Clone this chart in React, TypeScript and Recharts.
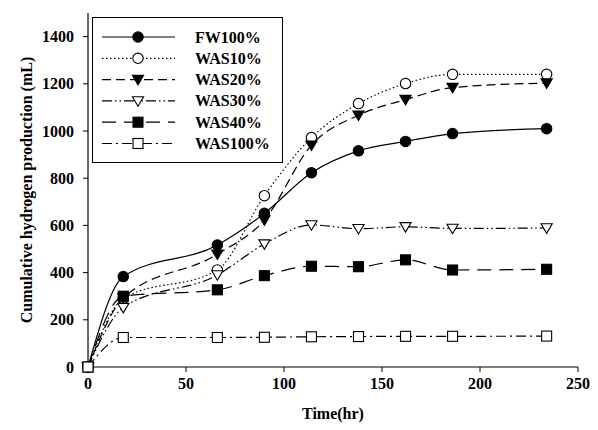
import { LineChart, Line, XAxis, YAxis, Legend } from 'recharts';

// time points (hr)
const times = [0, 18, 66, 90, 114, 138, 162, 186, 234];

// cumulative hydrogen production (mL)
const fw100 = [0, 383, 517, 651, 823, 916, 956, 989, 1010];
const was10 = [0, 290, 411, 726, 972, 1116, 1201, 1240, 1240];
const was20 = [0, 292, 478, 623, 940, 1067, 1133, 1184, 1203];
const was30 = [0, 252, 390, 521, 602, 586, 594, 587, 589];
const was40 = [0, 300, 327, 387, 427, 425, 454, 411, 414];
const was100 = [0, 125, 125, 126, 128, 129, 130, 130, 131];

const xTicks = [0, 50, 100, 150, 200, 250];
const yTicks = [0, 200, 400, 600, 800, 1000, 1200, 1400];

type Shape = 'circleFill' | 'circleOpen' | 'triDownFill' | 'triDownOpen' | 'squareFill' | 'squareOpen';

const seriesDefs: { key: string; name: string; values: number[]; dash?: string; shape: Shape }[] = [
  { key: 'fw100', name: 'FW100%', values: fw100, shape: 'circleFill' },
  { key: 'was10', name: 'WAS10%', values: was10, dash: '1.5 2.5', shape: 'circleOpen' },
  { key: 'was20', name: 'WAS20%', values: was20, dash: '9 5', shape: 'triDownFill' },
  { key: 'was30', name: 'WAS30%', values: was30, dash: '10 3 1.5 3 1.5 3', shape: 'triDownOpen' },
  { key: 'was40', name: 'WAS40%', values: was40, dash: '14 8', shape: 'squareFill' },
  { key: 'was100', name: 'WAS100%', values: was100, dash: '10 4 2 4', shape: 'squareOpen' },
];

const data = times.map((t, i) => {
  const row: Record<string, number> = { t };
  seriesDefs.forEach((s) => {
    row[s.key] = s.values[i];
  });
  return row;
});

const FONT = '"Liberation Serif", "Times New Roman", serif';

const Marker = ({ cx, cy, shape }: { cx: number; cy: number; shape: Shape }) => {
  const fill = shape.endsWith('Fill') ? '#000' : '#fff';
  if (shape.startsWith('circle')) {
    return <circle cx={cx} cy={cy} r={5.2} fill={fill} stroke="#000" strokeWidth={1.1} />;
  }
  if (shape.startsWith('tri')) {
    const s = 5.6;
    const pts = `${cx - s},${cy - s * 0.75} ${cx + s},${cy - s * 0.75} ${cx},${cy + s * 0.95}`;
    return <polygon points={pts} fill={fill} stroke="#000" strokeWidth={1.1} />;
  }
  return <rect x={cx - 5} y={cy - 5} width={10} height={10} fill={fill} stroke="#000" strokeWidth={1.1} />;
};

const dotFor = (shape: Shape) => (props: any) => (
  <Marker key={`${shape}-${props.index}`} cx={props.cx} cy={props.cy} shape={shape} />
);

const LegendBox = () => (
  <svg width={192} height={147} style={{ display: 'block' }}>
    <rect x={0.5} y={0.5} width={190} height={145} fill="#fff" stroke="#000" strokeWidth={1} />
    {seriesDefs.map((s, i) => {
      const y = 20 + i * 21.3;
      return (
        <g key={s.key}>
          <line x1={10} x2={83} y1={y} y2={y} stroke="#000" strokeWidth={1.2} strokeDasharray={s.dash} />
          <Marker cx={46} cy={y} shape={s.shape} />
          <text x={103} y={y + 5.5} fontFamily={FONT} fontWeight="bold" fontSize={16} fill="#000">
            {s.name}
          </text>
        </g>
      );
    })}
  </svg>
);

export default function App() {
  return (
    <div style={{ position: 'absolute', left: 0, top: 0, background: '#fff' }}>
      <LineChart
        width={598}
        height={430}
        data={data}
        margin={{ top: 13, right: 20, bottom: 0, left: 0 }}
      >
        <XAxis
          dataKey="t"
          type="number"
          domain={[0, 250]}
          ticks={xTicks}
          axisLine={{ stroke: '#000', strokeWidth: 1.2 }}
          tickLine={{ stroke: '#000' }}
          tickSize={5}
          tickMargin={6}
          height={63}
          tick={{ fill: '#000', fontFamily: FONT, fontWeight: 'bold', fontSize: 16 }}
          label={{
            value: 'Time(hr)',
            position: 'insideBottom',
            offset: 11,
            fill: '#000',
            fontFamily: FONT,
            fontWeight: 'bold',
            fontSize: 16,
          }}
        />
        <XAxis
          xAxisId="top"
          orientation="top"
          dataKey="t"
          type="number"
          domain={[0, 250]}
          height={0}
          tick={false}
          tickLine={false}
          axisLine={{ stroke: '#000', strokeWidth: 1.2 }}
        />
        <YAxis
          type="number"
          domain={[0, 1500]}
          ticks={yTicks}
          width={88}
          axisLine={{ stroke: '#000', strokeWidth: 1.2 }}
          tickLine={{ stroke: '#000' }}
          tickSize={5}
          tickMargin={9}
          tick={{ fill: '#000', fontFamily: FONT, fontWeight: 'bold', fontSize: 16 }}
          label={{
            value: 'Cumulative hydrogen production (mL)',
            angle: -90,
            position: 'insideLeft',
            offset: 26,
            style: { textAnchor: 'middle' },
            fill: '#000',
            fontFamily: FONT,
            fontWeight: 'bold',
            fontSize: 16,
          }}
        />
        <YAxis
          yAxisId="right"
          orientation="right"
          domain={[0, 1500]}
          width={0}
          tick={false}
          tickLine={false}
          axisLine={{ stroke: '#000', strokeWidth: 1.2 }}
        />
        <Legend
          layout="vertical"
          verticalAlign="middle"
          align="center"
          wrapperStyle={{ left: 92, top: 17, width: 192, height: 147 }}
          content={() => <LegendBox />}
        />
        {seriesDefs.map((s) => (
          <Line
            key={s.key}
            type="monotone"
            dataKey={s.key}
            name={s.name}
            stroke="#000"
            strokeWidth={1.2}
            strokeDasharray={s.dash}
            dot={dotFor(s.shape)}
            activeDot={false}
            isAnimationActive={false}
          />
        ))}
      </LineChart>
    </div>
  );
}
